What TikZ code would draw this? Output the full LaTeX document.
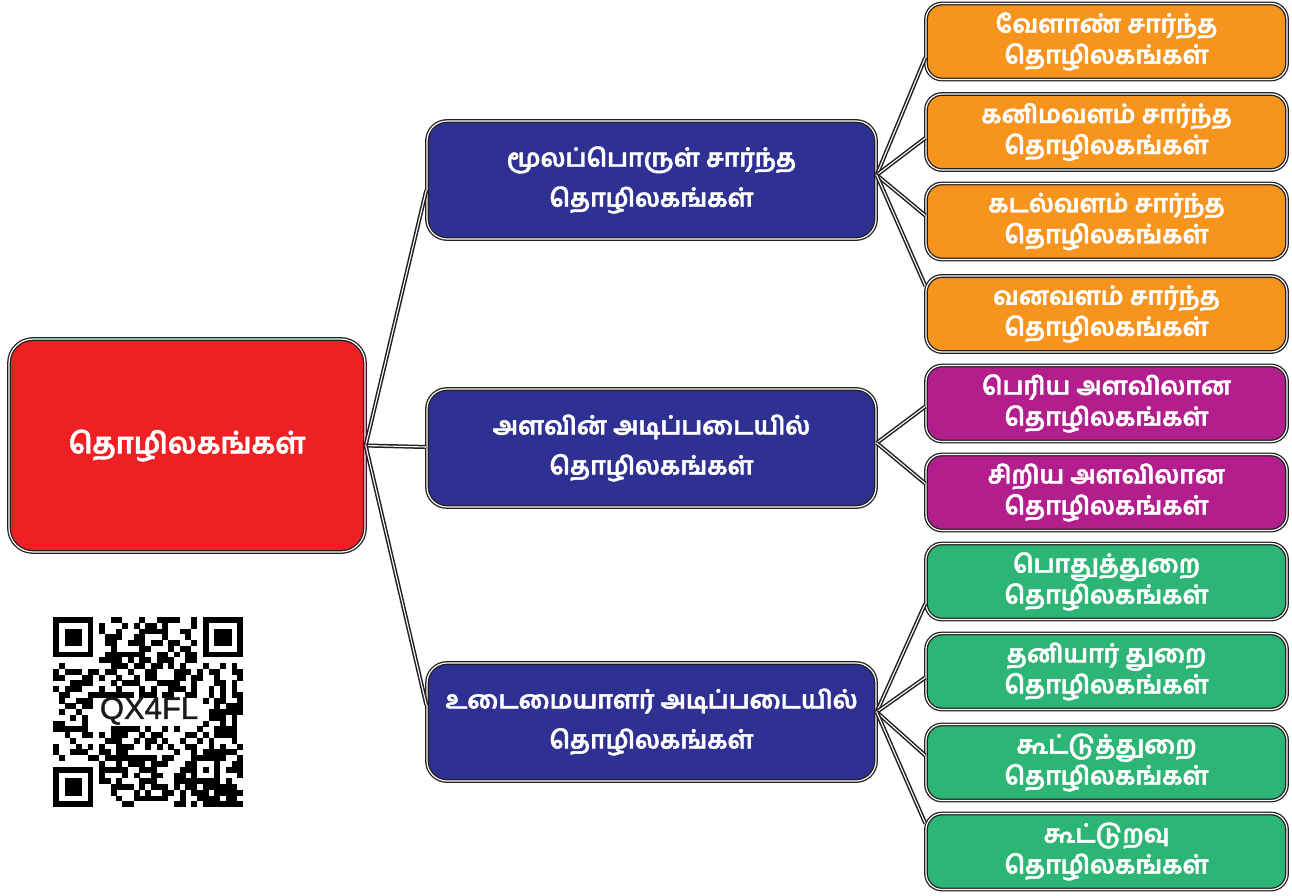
\documentclass[tikz,border=0pt]{standalone}
\usepackage{fontspec}
\newfontfamily\tamil[Script=Tamil, BoldFeatures={FakeBold=1.5}]{Hind Madurai}
\newfontfamily\qrfont[FakeBold=1.2]{Liberation Sans}
\definecolor{cline}{HTML}{231F20}
\definecolor{cred}{HTML}{ED2024}
\definecolor{cblue}{HTML}{2E3192}
\definecolor{corange}{HTML}{F7941D}
\definecolor{cpurple}{HTML}{B31E8D}
\definecolor{cgreen}{HTML}{2CB574}
\tikzset{
  boxbase/.style={rectangle, draw=cline, double=white, line width=1.3pt, double distance=1.2pt,
    text=white, align=center, inner sep=0pt},
  rootbox/.style={boxbase, fill=cred, minimum width=356pt, minimum height=213pt, rounded corners=24pt,
    font={\tamil\bfseries\fontsize{29}{34}\selectfont}},
  midbox/.style={boxbase, fill=cblue, minimum width=449pt, minimum height=118pt, rounded corners=20pt,
    font={\tamil\bfseries\fontsize{25}{40}\selectfont}},
  leafbox/.style={boxbase, minimum width=361pt, minimum height=76pt, rounded corners=16pt,
    font={\tamil\bfseries\fontsize{25}{31}\selectfont}},
  orangebox/.style={leafbox, fill=corange},
  purplebox/.style={leafbox, fill=cpurple},
  greenbox/.style={leafbox, fill=cgreen},
  link/.style={draw=cline, double=white, line width=1.5pt, double distance=1.1pt},
}
\begin{document}
\begin{tikzpicture}[x=1pt, y=-1pt]
\useasboundingbox (0,0) rectangle (1292,895);

% nodes
\node[rootbox] (root) at (187,445.5) {தொழிலகங்கள்};
\node[midbox] (m1) at (651.5,180) {மூலப்பொருள் சார்ந்த\\தொழிலகங்கள்};
\node[midbox] (m2) at (651.5,448) {அளவின் அடிப்படையில்\\தொழிலகங்கள்};
\node[midbox] (m3) at (651.5,722) {உடைமையாளர் அடிப்படையில்\\தொழிலகங்கள்};

\node[orangebox] (o1) at (1106.5,41.5) {வேளாண் சார்ந்த\\தொழிலகங்கள்};
\node[orangebox] (o2) at (1106.5,132) {கனிமவளம் சார்ந்த\\தொழிலகங்கள்};
\node[orangebox] (o3) at (1106.5,221.5) {கடல்வளம் சார்ந்த\\தொழிலகங்கள்};
\node[orangebox] (o4) at (1106.5,314) {வனவளம் சார்ந்த\\தொழிலகங்கள்};
\node[purplebox] (p1) at (1106.5,403.5) {பெரிய அளவிலான\\தொழிலகங்கள்};
\node[purplebox] (p2) at (1106.5,492.5) {சிறிய அளவிலான\\தொழிலகங்கள்};
\node[greenbox] (g1) at (1106.5,581.5) {பொதுத்துறை\\தொழிலகங்கள்};
\node[greenbox] (g2) at (1106.5,671.5) {தனியார் துறை\\தொழிலகங்கள்};
\node[greenbox] (g3) at (1106.5,762.5) {கூட்டுத்துறை\\தொழிலகங்கள்};
\node[greenbox] (g4) at (1106.5,851.5) {கூட்டுறவு\\தொழிலகங்கள்};

% connectors
\draw[link] (root.east) -- ([yshift=-10pt]m1.west);
\draw[link] (root.east) -- ([yshift=1pt]m2.west);
\draw[link] (root.east) -- ([yshift=17pt]m3.west);

\draw[link] ([yshift=5pt]m1.east) -- ([yshift=-16pt]o1.west);
\draw[link] ([yshift=5pt]m1.east) -- ([yshift=-6pt]o2.west);
\draw[link] ([yshift=5pt]m1.east) -- ([yshift=6pt]o3.west);
\draw[link] ([yshift=5pt]m1.east) -- ([yshift=28pt]o4.west);

\draw[link] ([yshift=5pt]m2.east) -- ([yshift=-3pt]p1.west);
\draw[link] ([yshift=5pt]m2.east) -- ([yshift=9pt]p2.west);

\draw[link] ([yshift=10pt]m3.east) -- ([yshift=-22pt]g1.west);
\draw[link] ([yshift=10pt]m3.east) -- ([yshift=-6pt]g2.west);
\draw[link] ([yshift=10pt]m3.east) -- ([yshift=7pt]g3.west);
\draw[link] ([yshift=10pt]m3.east) -- ([yshift=28pt]g4.west);

% QR code
\def\qm{5.76}
\pgfmathsetseed{4711}
\foreach \i in {0,...,32}{
  \foreach \j in {0,...,32}{
    \pgfmathtruncatemacro{\qskip}{(((\i<8)&&(\j<8)) || ((\i>24)&&(\j<8)) || ((\i<8)&&(\j>24)) || ((\i>6)&&(\i<26)&&(\j>13)&&(\j<19))) ? 1 : 0}
    \pgfmathrandominteger{\qr}{0}{9}
    \ifnum\qskip=0 \ifnum\qr<5
      \fill[black] (53+\i*\qm,617+\j*\qm) rectangle ++(\qm+0.15,\qm+0.15);
    \fi\fi
  }
}
\foreach \a/\b in {0/0,26/0,0/26}{
  \fill[black] (53+\a*\qm,617+\b*\qm) rectangle ++(7*\qm,7*\qm);
  \fill[white] (53+\a*\qm+\qm,617+\b*\qm+\qm) rectangle ++(5*\qm,5*\qm);
  \fill[black] (53+\a*\qm+2*\qm,617+\b*\qm+2*\qm) rectangle ++(3*\qm,3*\qm);
}
\fill[black] (53+24*\qm,617+24*\qm) rectangle ++(5*\qm,5*\qm);
\fill[white] (53+25*\qm,617+25*\qm) rectangle ++(3*\qm,3*\qm);
\fill[black] (53+26*\qm,617+26*\qm) rectangle ++(\qm,\qm);
\node[text=black!90, font={\qrfont\fontsize{31}{31}\selectfont}, inner sep=0pt] (qrtext) at (149,711) {QX4FL};
\end{tikzpicture}
\end{document}
